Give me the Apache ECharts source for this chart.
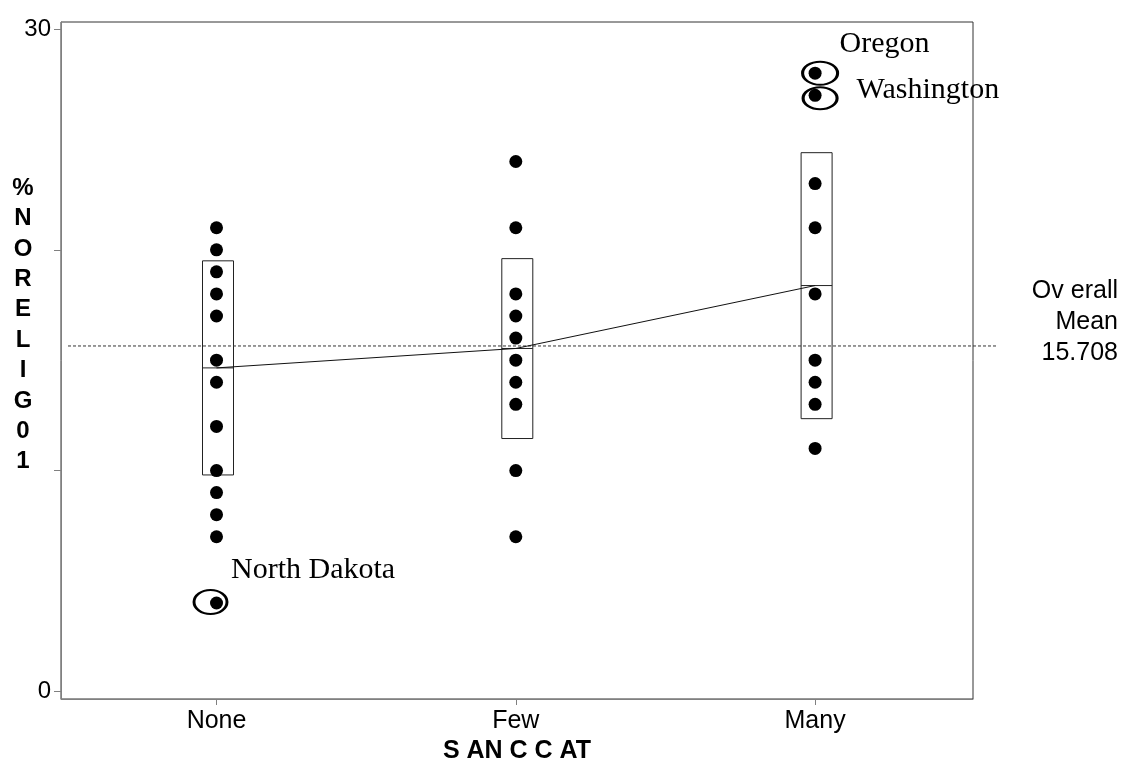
<!DOCTYPE html>
<html>
<head>
<meta charset="utf-8">
<script src="https://cdn.jsdelivr.net/npm/echarts@6/dist/echarts.min.js"></script>
<style>
html,body{margin:0;padding:0;background:#fff;}
#chart{width:1123px;height:769px;}
</style>
</head>
<body>
<div id="chart"></div>
<script>
// ---- data ----
const categories = ['None', 'Few', 'Many'];
const noneValues = [21, 20, 19, 18, 17, 15, 14, 12, 10, 9, 8, 7, 4];
const fewValues = [24, 21, 18, 17, 16, 15, 14, 13, 10, 7];
const manyValues = [28, 27, 23, 21, 18, 15, 14, 13, 11];
const boxLow = [9.8, 11.45, 12.35];
const boxHigh = [19.5, 19.6, 24.4];
const groupMeans = [14.65, 15.53, 18.38];
const overallMean = 15.708;
const yTickValues = [0, 10, 20, 30];
const yLabelValues = [0, 30];
const outlierNames = ['North Dakota', 'Oregon', 'Washington'];
const outlierCats = [0, 2, 2];
const outlierValues = [4, 28, 27];
const xAxisTitle = 'S AN C C AT';
const yAxisTitle = '%NORELIG01';
const meanLabel = ['Ov erall', 'Mean', '15.708'];

// ---- styles ----
const SANS = '"Liberation Sans", Arial, sans-serif';
const SERIF = '"Liberation Serif", "Times New Roman", serif';
const ellipsePath = 'path://M0,10A10,10 0 1,1 20,10A10,10 0 1,1 0,10Z';
const ellipseStyles = [
  {size: [33, 24], offset: [-6, -1], label: [14, -33]},
  {size: [35, 23], offset: [5, 0], label: [24, -29]},
  {size: [34, 22], offset: [5, 3], label: [41, -5]}
];

const groups = [noneValues, fewValues, manyValues];
const dotSeries = groups.map((vals, i) => ({
  type: 'scatter',
  xAxisIndex: 0, yAxisIndex: 0,
  symbol: 'circle', symbolSize: 13,
  itemStyle: {color: '#000', opacity: 1},
  z: 5,
  data: vals.map(v => [i, v])
}));

const yRange = {min: -0.35, max: 30.32};

const option = {
  animation: false,
  backgroundColor: '#fff',
  grid: [
    {left: 61, right: 150, top: 22, bottom: 67, show: true, borderColor: '#333', borderWidth: 1},
    {left: 68, right: 126, top: 22, bottom: 67, show: false}
  ],
  xAxis: [
    {
      type: 'value', gridIndex: 0, min: -0.5196, max: 2.5276,
      splitLine: {show: false},
      axisLine: {show: true, onZero: false, lineStyle: {color: '#808080', width: 1}},
      axisTick: {show: true, customValues: [0, 1, 2], length: 6, lineStyle: {color: '#808080'}},
      axisLabel: {customValues: [0, 1, 2], formatter: v => categories[Math.round(v)] || '',
        color: '#000', fontFamily: SANS, fontSize: 25, margin: 10},
      name: xAxisTitle, nameLocation: 'middle', nameGap: 40,
      nameTextStyle: {color: '#000', fontFamily: SANS, fontSize: 25, fontWeight: 'bold'}
    },
    {type: 'value', gridIndex: 1, min: 0, max: 1, show: false}
  ],
  yAxis: [
    {
      type: 'value', gridIndex: 0, min: yRange.min, max: yRange.max,
      splitLine: {show: false},
      axisLine: {show: true, onZero: false, lineStyle: {color: '#808080', width: 1}},
      axisTick: {show: true, customValues: yTickValues, length: 7, lineStyle: {color: '#808080'}},
      axisLabel: {customValues: yLabelValues, color: '#000', fontFamily: SANS, fontSize: 24, margin: 10}
    },
    {type: 'value', gridIndex: 1, min: yRange.min, max: yRange.max, show: false}
  ],
  graphic: [
    {type: 'text', x: 23, y: 173, z: 10,
      style: {text: yAxisTitle.split('').join('\n'), font: 'bold 24px ' + SANS,
        fill: '#000', align: 'center', verticalAlign: 'top', lineHeight: 30.4}},
    {type: 'text', x: 1118, y: 276, z: 10,
      style: {text: meanLabel.join('\n'), font: '25px ' + SANS,
        fill: '#000', align: 'right', verticalAlign: 'top', lineHeight: 31}}
  ],
  series: [
    {
      type: 'line', xAxisIndex: 1, yAxisIndex: 1,
      symbol: 'none', silent: true,
      lineStyle: {color: '#333', width: 1, type: [3, 2]},
      data: [[0, overallMean], [1, overallMean]]
    },
    {
      type: 'custom', xAxisIndex: 0, yAxisIndex: 0, z: 3,
      data: categories.map((c, i) => [i, boxLow[i], boxHigh[i], groupMeans[i]]),
      renderItem: function (params, api) {
        const x = api.value(0), lo = api.value(1), hi = api.value(2), m = api.value(3);
        const top = api.coord([x, hi]), bot = api.coord([x, lo]), mid = api.coord([x, m]);
        const w = 31, cx = top[0] + 1.5;
        return {
          type: 'group', children: [
            {type: 'rect', shape: {x: cx - w / 2, y: top[1], width: w, height: bot[1] - top[1]},
              style: {fill: 'none', stroke: '#222', lineWidth: 1}},
            {type: 'line', shape: {x1: cx - w / 2, y1: mid[1], x2: cx + w / 2, y2: mid[1]},
              style: {stroke: '#222', lineWidth: 1}}
          ]
        };
      }
    },
    {
      type: 'line', xAxisIndex: 0, yAxisIndex: 0, z: 4,
      symbol: 'none',
      lineStyle: {color: '#111', width: 1},
      data: groupMeans.map((m, i) => [i, m])
    },
    ...dotSeries,
    {
      type: 'scatter', xAxisIndex: 0, yAxisIndex: 0, z: 6,
      symbol: ellipsePath,
      itemStyle: {color: 'rgba(0,0,0,0)', borderColor: '#000', borderWidth: 2.5, opacity: 1},
      data: outlierNames.map((n, i) => ({
        name: n, value: [outlierCats[i], outlierValues[i]],
        symbolSize: ellipseStyles[i].size, symbolOffset: ellipseStyles[i].offset
      }))
    },
    {
      type: 'scatter', xAxisIndex: 0, yAxisIndex: 0, z: 7,
      symbolSize: 1, itemStyle: {color: 'rgba(0,0,0,0)', opacity: 1},
      data: outlierNames.map((n, i) => ({
        name: n, value: [outlierCats[i], outlierValues[i]],
        label: {show: true, position: 'right', distance: 0, offset: ellipseStyles[i].label,
          formatter: '{b}', color: '#000', fontFamily: SERIF, fontSize: 30}
      }))
    }
  ]
};

const chart = echarts.init(document.getElementById('chart'), null, {renderer: 'canvas'});
chart.setOption(option);
</script>
</body>
</html>
